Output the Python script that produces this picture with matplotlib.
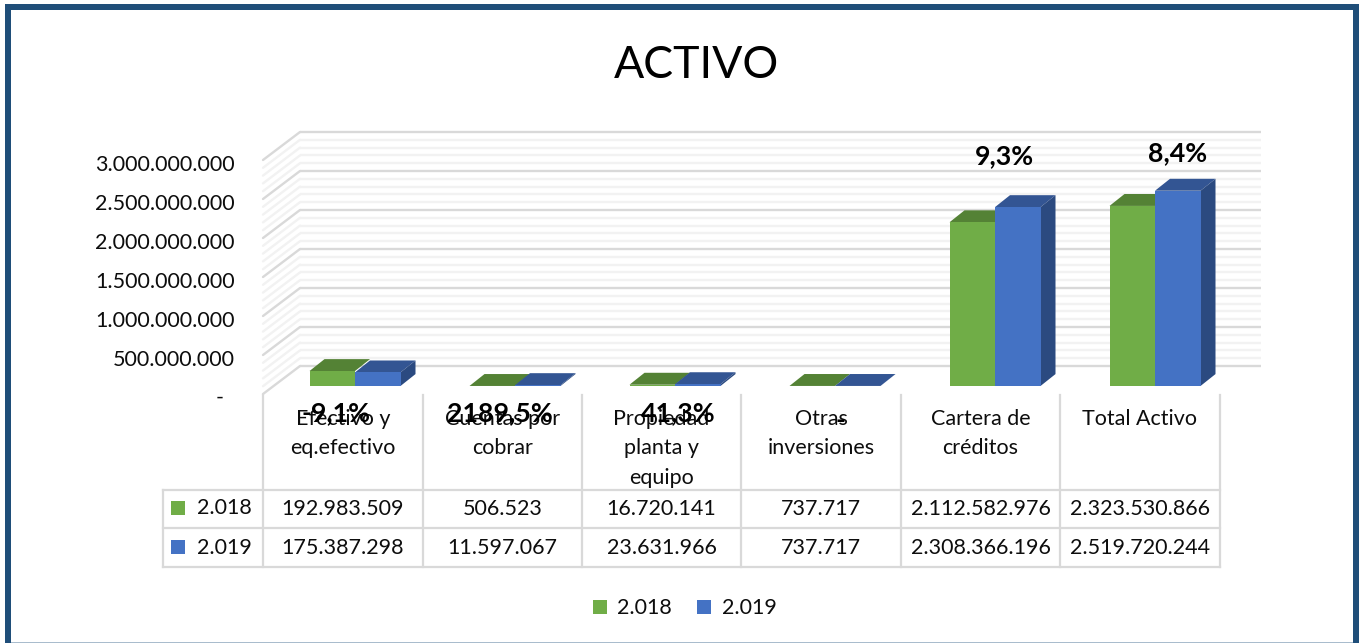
import matplotlib
matplotlib.use("Agg")
import matplotlib.pyplot as plt
from matplotlib.patches import Rectangle, Polygon

plt.rcParams['font.family'] = ['Lato', 'DejaVu Sans']

categories = ["Efectivo y\neq.efectivo", "Cuentas por\ncobrar", "Propiedad\nplanta y\nequipo",
              "Otras\ninversiones", "Cartera de\ncréditos", "Total Activo"]
series_names = ["2.018", "2.019"]
values_2018 = [192983509, 506523, 16720141, 737717, 2112582976, 2323530866]
values_2019 = [175387298, 11597067, 23631966, 737717, 2308366196, 2519720244]
variation = ["-9,1%", "2189,5%", "41,3%", "-", "9,3%", "8,4%"]
y_ticks = [0, 500000000, 1000000000, 1500000000, 2000000000, 2500000000, 3000000000]

GREEN, GREEN_TOP = "#70AD47", "#548235"
BLUE, BLUE_TOP, BLUE_SIDE = "#4472C4", "#335593", "#2B4A80"
GRID, GRID_MINOR, TABLE_LINE = "#D9D9D9", "#F2F2F2", "#D9D9D9"
FRAME = "#1F4E79"
W, H = 1359, 643
FS = 15.5
INK = "#0d0d0d"

def fmt(v):
    return f"{v:,}".replace(",", ".") if v else "-  "

fig = plt.figure(figsize=(W / 100, H / 100), dpi=100, facecolor="white")

def axes_px(x0, x1, y_top, y_bottom, **kw):
    a = fig.add_axes([x0 / W, 1 - y_bottom / H, (x1 - x0) / W, (y_bottom - y_top) / H], **kw)
    a.patch.set_alpha(0)
    for s in a.spines.values():
        s.set_visible(False)
    return a

def page_layer(zorder):
    a = axes_px(0, W, 0, H)
    a.set_xlim(0, W)
    a.set_ylim(H, 0)
    a.axis("off")
    a.set_zorder(zorder)
    return a

# page layers in pixel coordinates: one below the plot, one above it
page = page_layer(1)
top = page_layer(10)

SCALE = 234 / 3e9
# back wall
WALL_L, WALL_R, WALL_TOP, WALL_BASE = 300, 1261, 132, 366
wall = axes_px(WALL_L, WALL_R, WALL_TOP, WALL_BASE)
wall.set_zorder(2)
wall.set_ylim(0, 3e9)
wall.set_xlim(0, 1)
wall.set_xticks([])
wall.set_yticks([])
minor = [t + k * 1e8 for t in y_ticks[:-1] for k in range(1, 5)]
wall.hlines(minor, 0, 1, color=GRID_MINOR, lw=1.7, zorder=1, clip_on=False)
wall.hlines(y_ticks, 0, 1, color=GRID, lw=1.7, zorder=2, clip_on=False)
for v in minor + y_ticks:
    yb = WALL_BASE - v * SCALE
    major = v in y_ticks
    page.plot([263, WALL_L], [yb + 28, yb], color=GRID if major else GRID_MINOR,
              lw=1.7, zorder=2 if major else 1, solid_capstyle="round")

# front plane: y axis tick labels
front = axes_px(263, 1261, 163, 396.5)
front.set_zorder(3)
front.set_ylim(0, 3e9)
front.set_xticks([])
front.set_yticks(y_ticks)
front.set_yticklabels([fmt(t) for t in y_ticks], fontsize=FS, color=INK)
front.tick_params(axis="y", length=0, pad=20.5)

# bars
bars = axes_px(275, 1235, 153.5, 386)
bars.set_zorder(4)
bars.set_ylim(0, 3e9)
bars.set_xlim(-0.5, 5.5)
bars.axis("off")
WIDTH = 45.5 / 160
DX, DY = 15 / 160, 12 / SCALE
xs = list(range(len(categories)))
for x, a, b in zip(xs, values_2018, values_2019):
    bars.add_patch(Polygon([(x - WIDTH, a), (x, a), (x + DX, a + DY), (x - WIDTH + DX, a + DY)],
                           fc=GREEN_TOP, ec="none", zorder=3, clip_on=False))
    bars.add_patch(Polygon([(x, b), (x + WIDTH, b), (x + WIDTH + DX, b + DY), (x + DX, b + DY)],
                           fc=BLUE_TOP, ec="none", zorder=4, clip_on=False))
    bars.add_patch(Polygon([(x + WIDTH, 0), (x + WIDTH + DX, DY), (x + WIDTH + DX, b + DY), (x + WIDTH, b)],
                           fc=BLUE_SIDE, ec="none", zorder=4, clip_on=False))
bars.bar([x - WIDTH / 2 for x in xs], values_2018, WIDTH, color=GREEN, zorder=5)
bars.bar([x + WIDTH / 2 for x in xs], values_2019, WIDTH, color=BLUE, zorder=6)

# table
cols = [263, 423, 582, 741, 901, 1060, 1220]
for cx in cols:
    page.plot([cx, cx], [395, 567], color=TABLE_LINE, lw=1.6, zorder=1)
page.plot([163, 163], [490, 567], color=TABLE_LINE, lw=1.6, zorder=1)
for ry in (490, 528, 567):
    page.plot([163, 1220], [ry, ry], color=TABLE_LINE, lw=1.6, zorder=1)
for i, label in enumerate(categories):
    cx = (cols[i] + cols[i + 1]) / 2
    top.text(cx, 409, label, ha="center", va="top", fontsize=FS, color=INK, linespacing=1.58)
    top.text(cx, 509, fmt(values_2018[i]), ha="center", va="center", fontsize=FS, color=INK)
    top.text(cx, 548, fmt(values_2019[i]), ha="center", va="center", fontsize=FS, color=INK)
for ry, col, name in ((508, GREEN, series_names[0]), (547, BLUE, series_names[1])):
    top.add_patch(Rectangle((171, ry - 7), 14, 14, fc=col, ec="none"))
    top.text(197, ry + 0.5, name, ha="left", va="center", fontsize=FS, color=INK)

# variation labels
label_pos = [(336, 413), (500, 413), (678, 413), (840, 421), (1004, 156), (1178, 153)]
for (lx, ly), text in zip(label_pos, variation):
    top.text(lx, ly, text, ha="center", va="center", fontsize=19.3, fontweight="bold",
             color="black", zorder=8)

# bottom legend
for kx, tx, col, name in ((593, 617, GREEN, series_names[0]), (697, 722, BLUE, series_names[1])):
    top.add_patch(Rectangle((kx, 600), 14, 14, fc=col, ec="none"))
    top.text(tx, 607.5, name, ha="left", va="center", fontsize=FS, color=INK)

# title
top.text(696, 66, "ACTIVO", ha="center", va="center", fontsize=32.2, color="black")

# frame
top.add_patch(Rectangle((5, 4), W - 5, 6, fc=FRAME, ec="none", zorder=9))
top.add_patch(Rectangle((5, 4), 6, H - 4, fc=FRAME, ec="none", zorder=9))
top.add_patch(Rectangle((1353, 4), 6, H - 4, fc=FRAME, ec="none", zorder=9))
top.add_patch(Rectangle((11, 641.5), 1342, 1.5, fc="#A9BCCD", ec="none", zorder=9))

fig.savefig("out.png", dpi=100, facecolor="white")
